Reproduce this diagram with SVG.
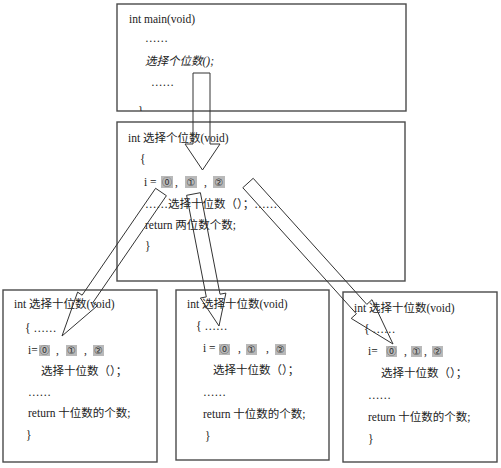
<svg xmlns="http://www.w3.org/2000/svg" width="501" height="468" viewBox="0 0 501 468">
<style>
  .box { fill: #fff; stroke: #4a4a4a; stroke-width: 1.4; }
  .t { font-family: "Liberation Serif", "Noto Sans CJK SC", serif; font-size: 11.5px; fill: #222; }
  .it { font-style: italic; }
  .hl { fill: #b9b9b9; }
  .d { font-family: "DejaVu Sans", "Noto Sans CJK SC", sans-serif; font-size: 10px; fill: #333; text-anchor: middle; }
  .arrow { fill: none; stroke: #333; stroke-width: 1; stroke-linejoin: miter; }
</style>
<defs>
  <clipPath id="clipTop"><rect x="117" y="4" width="289" height="107"/></clipPath>
</defs>
<rect width="501" height="468" fill="#fff"/>

<g id="main">
  <rect class="box" x="117" y="4" width="289" height="107"/>
  <text class="t" x="129" y="23">int main(void)</text>
  <text class="t" x="145" y="42">……</text>
  <text class="t it" x="145" y="65">选择个位数();</text>
  <text class="t" x="151" y="86">……</text>
  <text class="t" x="138" y="115" clip-path="url(#clipTop)">}</text>
</g>

<g id="units">
  <rect class="box" x="117" y="122" width="288" height="159"/>
  <text class="t" x="128" y="142">int  选择个位数(void)</text>
  <text class="t" x="140" y="163">{</text>
  <text class="t" x="144" y="186">i =</text>
  <rect class="hl" x="161" y="176" width="12" height="12"/><text class="d" x="167" y="185.5">⓪</text>
  <text class="t" x="175" y="186">,</text>
  <rect class="hl" x="185" y="176" width="12" height="12"/><text class="d" x="191" y="185.5">①</text>
  <text class="t" x="204" y="186">,</text>
  <rect class="hl" x="213" y="176" width="12" height="12"/><text class="d" x="219" y="185.5">②</text>
  <text class="t" x="145" y="208">……选择十位数（）；……</text>
  <text class="t" x="145" y="229">return 两位数个数;</text>
  <text class="t" x="145" y="250">}</text>
</g>

<g id="tens1">
  <rect class="box" x="3" y="290" width="154" height="172"/>
  <text class="t" x="14" y="308">int  选择十位数(void)</text>
  <text class="t" x="25" y="332">{ ……</text>
  <text class="t" x="28" y="354">i=</text>
  <rect class="hl" x="39" y="345" width="11" height="11"/><text class="d" x="44.5" y="354">⓪</text>
  <text class="t" x="56" y="354">,</text>
  <rect class="hl" x="66" y="345" width="11" height="11"/><text class="d" x="71.5" y="354">①</text>
  <text class="t" x="84" y="354">,</text>
  <rect class="hl" x="93" y="345" width="11" height="11"/><text class="d" x="98.5" y="354">②</text>
  <text class="t" x="41" y="375">选择十位数（）；</text>
  <text class="t" x="28" y="396">……</text>
  <text class="t" x="28" y="417">return 十位数的个数;</text>
  <text class="t" x="26" y="439">}</text>
</g>

<g id="tens2">
  <rect class="box" x="176" y="290" width="153" height="170"/>
  <text class="t" x="187" y="308">int  选择十位数(void)</text>
  <text class="t" x="196" y="330">{ ……</text>
  <text class="t" x="203" y="352">i =</text>
  <rect class="hl" x="219" y="344" width="11" height="11"/><text class="d" x="224.5" y="353">⓪</text>
  <text class="t" x="238" y="352">,</text>
  <rect class="hl" x="246" y="344" width="11" height="11"/><text class="d" x="251.5" y="353">①</text>
  <text class="t" x="266" y="352">,</text>
  <rect class="hl" x="275" y="344" width="11" height="11"/><text class="d" x="280.5" y="353">②</text>
  <text class="t" x="213" y="374">选择十位数（）；</text>
  <text class="t" x="203" y="396">……</text>
  <text class="t" x="203" y="418">return 十位数的个数;</text>
  <text class="t" x="205" y="440">}</text>
</g>

<g id="tens3">
  <rect class="box" x="343" y="292" width="154" height="170"/>
  <text class="t" x="354" y="312">int  选择十位数(void)</text>
  <text class="t" x="364" y="333">{ ……</text>
  <text class="t" x="368" y="355">i=</text>
  <rect class="hl" x="386" y="346" width="11" height="11"/><text class="d" x="391.5" y="355">⓪</text>
  <text class="t" x="404" y="355">,</text>
  <rect class="hl" x="411" y="346" width="11" height="11"/><text class="d" x="416.5" y="355">①</text>
  <text class="t" x="424" y="355">,</text>
  <rect class="hl" x="432" y="346" width="11" height="11"/><text class="d" x="437.5" y="355">②</text>
  <text class="t" x="381" y="377">选择十位数（）；</text>
  <text class="t" x="368" y="399">……</text>
  <text class="t" x="368" y="421">return 十位数的个数;</text>
  <text class="t" x="368" y="443">}</text>
</g>

<g id="connectors">
  <polygon class="arrow" points="193,73 210,73 210,144 220,144 202.5,170 185,144 193,144"/>
  <polygon class="arrow" points="155.6,188.3 82.1,295.2 77.6,292.1 62,336 97.4,305.7 92.9,302.6 166.4,195.7"/>
  <polygon class="arrow" points="186.6,195.3 206.3,296.9 200.4,298.0 219,326 225.9,293.1 220,294.2 200.4,192.7"/>
  <polygon class="arrow" points="242.8,187.7 356.4,313.8 351.2,318.4 393,344 372,299.7 366.8,304.4 253.2,178.3"/>
</g>
</svg>
